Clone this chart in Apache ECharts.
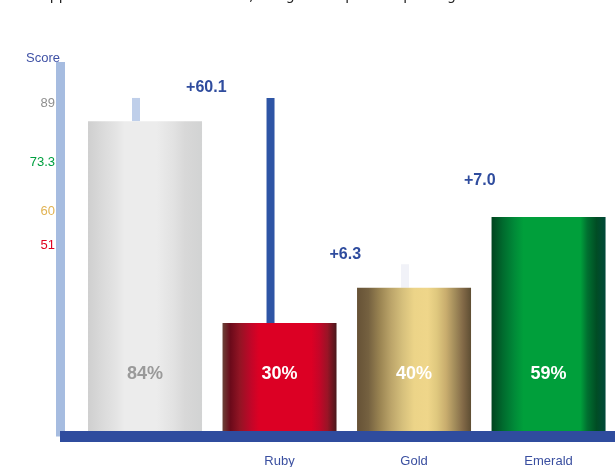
<!DOCTYPE html>
<html><head><meta charset="utf-8">
<script src="https://cdn.jsdelivr.net/npm/echarts@6/dist/echarts.min.js"></script>
<style>html,body{margin:0;padding:0;background:#fff}#c{width:615px;height:467px}</style>
</head><body><div id="c"></div>
<script>
// ---- data ----
const titleText = 'Supplier share of total revenue, margin as a percent per segment in each market';
const categories = ['Platinum', 'Ruby', 'Gold', 'Emerald'];
const positions = [1, 2, 3, 4];
const values = [84.2, 30.3, 39.7, 58.6];
const errorHigh = [90.4, 90.4, 46.0, 65.6];
const errorLabels = ['', '+60.1', '+6.3', '+7.0'];
const targets = [89, 51, 60, 73.3];
const yName = 'Score';
const labelledCategories = [2, 3, 4];

// ---- styles ----
const gradients = [
  [[0,'#cfcfcf'],[0.1,'#d8d8d8'],[0.25,'#e4e4e4'],[0.32,'#ececec'],[0.6,'#ececec'],[0.75,'#e2e2e2'],[0.85,'#d8d8d8'],[1,'#d2d3d3']],
  [[0,'#6b4238'],[0.07,'#6b0a1a'],[0.15,'#921424'],[0.25,'#c10628'],[0.32,'#dc0024'],[0.78,'#dc0024'],[0.85,'#c40628'],[0.92,'#9a1426'],[1,'#4a181c']],
  [[0,'#665236'],[0.1,'#756140'],[0.2,'#9a8452'],[0.3,'#bca56a'],[0.4,'#d6c07c'],[0.5,'#ecd488'],[0.62,'#efd68a'],[0.7,'#dfc87e'],[0.78,'#c9ad6e'],[0.86,'#a18b5a'],[0.93,'#826947'],[1,'#5e4e33']],
  [[0,'#00441e'],[0.1,'#006b2e'],[0.2,'#008a38'],[0.28,'#009f3b'],[0.78,'#009f3b'],[0.84,'#007030'],[0.92,'#004d24'],[1,'#004838']]
];
const insideLabelColors = ['#9a9a9a', '#ffffff', '#ffffff', '#ffffff'];
const targetColors = ['#8f8f8f', '#e0001f', '#e1b354', '#00a040'];
const errColors = ['#bfcfea', '#2e55a5', '#f1f2f8', 'rgba(255,255,255,0)'];
const blue = '#2f4c9e';

function grad(stops) {
  return new echarts.graphic.LinearGradient(0, 0, 1, 0,
    stops.map(s => ({ offset: s[0], color: s[1] })));
}

const chart = echarts.init(document.getElementById('c'), null, { renderer: 'canvas' });
chart.setOption({
  animation: false,
  backgroundColor: '#ffffff',
  title: {
    text: titleText, left: 27, top: -16,
    textStyle: { fontSize: 14, fontWeight: 'normal', color: '#222', fontFamily: 'DejaVu Sans' }
  },
  grid: { left: 60, right: 0, top: 62, bottom: 30.5, outerBoundsMode: 'none' },
  xAxis: {
    type: 'value', min: 0.368, max: 4.494, z: 3,
    axisLine: { show: true, onZero: false, lineStyle: { color: blue, width: 11, cap: 'butt' } },
    axisTick: { show: false },
    splitLine: { show: false },
    axisLabel: {
      customValues: labelledCategories,
      formatter: v => categories[Math.round(v) - 1],
      color: '#3a4fa0', fontSize: 13, margin: 18
    }
  },
  yAxis: {
    type: 'value', min: 0, max: 100, z: 3,
    name: yName, nameLocation: 'end', nameGap: 4,
    nameTextStyle: { color: '#3f51a5', align: 'right', verticalAlign: 'middle', fontSize: 13 },
    axisLine: { show: true, lineStyle: { color: '#a6bce0', width: 9, cap: 'butt' } },
    axisTick: { show: false },
    axisLabel: { show: false },
    splitLine: { show: false }
  },
  series: [
    {
      type: 'custom',
      z: 1,
      data: positions.map((p, i) => [p, values[i], errorHigh[i]]),
      renderItem: function (params, api) {
        const i = params.dataIndex;
        const p0 = api.coord([api.value(0), api.value(1)]);
        const p1 = api.coord([api.value(0), api.value(2)]);
        const xo = p0[0] - 9;
        return {
          type: 'group',
          children: [
            { type: 'line', shape: { x1: xo, y1: p0[1], x2: xo, y2: p1[1] },
              style: { stroke: errColors[i], lineWidth: 8 } },
            { type: 'text', style: { text: errorLabels[i], x: xo - 44, y: p1[1] - 10,
              align: 'right', verticalAlign: 'middle', fill: blue,
              font: 'bold 16px sans-serif' } }
          ]
        };
      }
    },
    {
      type: 'bar',
      z: 2,
      barWidth: 114,
      data: positions.map((p, i) => ({
        value: [p, values[i]],
        itemStyle: { color: grad(gradients[i]) },
        label: { color: insideLabelColors[i] }
      })),
      label: {
        show: true, position: 'insideBottom', distance: 53,
        fontSize: 18, fontWeight: 'bold',
        formatter: p => Math.round(p.value[1]) + '%'
      },
      markLine: {
        silent: true,
        symbol: ['none', 'none'],
        lineStyle: { color: 'rgba(0,0,0,0)', width: 0 },
        label: { show: true, position: 'start', distance: 5, fontSize: 13, formatter: '{c}' },
        data: targets.map((v, i) => ({ yAxis: v, label: { color: targetColors[i] } }))
      }
    }
  ]
});
</script>
</body></html>
